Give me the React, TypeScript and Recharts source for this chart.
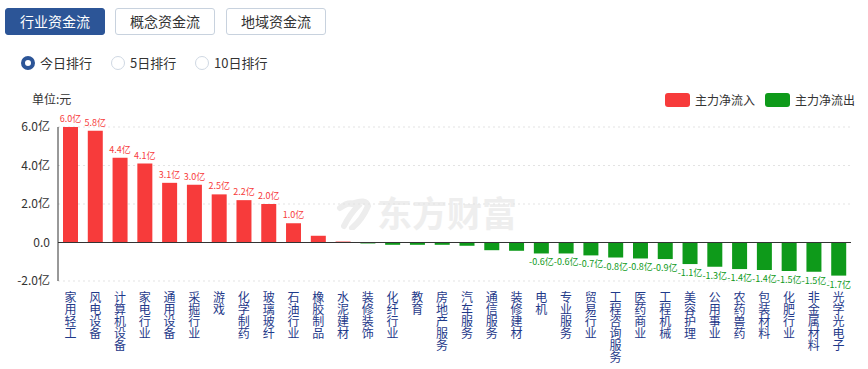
import { BarChart, Bar, XAxis, YAxis, CartesianGrid, ReferenceLine, LabelList } from 'recharts';

const industries = [
  '家用轻工', '风电设备', '计算机设备', '家电行业', '通用设备', '采掘行业', '游戏', '化学制药',
  '玻璃玻纤', '石油行业', '橡胶制品', '水泥建材', '装修装饰', '化纤行业', '教育', '房地产服务',
  '汽车服务', '通信服务', '装修建材', '电机', '专业服务', '贸易行业', '工程咨询服务', '医药商业',
  '工程机械', '美容护理', '公用事业', '农药兽药', '包装材料', '化肥行业', '非金属材料', '光学光电子',
];

// 主力净流入(亿元)
const netFlows = [
  6.0, 5.8, 4.4, 4.1, 3.1, 3.0, 2.5, 2.2,
  2.0, 1.0, 0.35, 0.05, -0.05, -0.12, -0.12, -0.12,
  -0.17, -0.4, -0.43, -0.57, -0.57, -0.67, -0.78, -0.83,
  -0.86, -1.12, -1.26, -1.38, -1.43, -1.48, -1.52, -1.72,
];

const yTicks = [-2, 0, 2, 4, 6];

const RED = '#f73b3b';
const GREEN = '#0e9a1a';
const FONT = '"Noto Sans CJK SC", "Noto Sans", sans-serif';

const chartData = industries.map((name, i) => ({
  name,
  inflow: netFlows[i] > 0 ? netFlows[i] : null,
  outflow: netFlows[i] < 0 ? netFlows[i] : null,
}));

const VerticalTick = (props: any) => {
  const { x, y, payload } = props;
  const chars = String(payload.value).split('');
  return (
    <text x={x} y={y} textAnchor="middle" fill="#1f3a8a" fontSize={12} fontFamily={FONT}>
      {chars.map((ch, i) => (
        <tspan key={i} x={x} dy={i === 0 ? 19 : 12}>{ch}</tspan>
      ))}
    </text>
  );
};

const makeLabel = (color: string) => (props: any) => {
  const { x, y, width, height, value } = props;
  if (value == null || Math.abs(value) < 0.5) return null;
  const cx = x + width / 2;
  const top = Math.min(y, y + height);
  const bottom = Math.max(y, y + height);
  const ly = value > 0 ? top - 5 : bottom + 12;
  return (
    <text x={cx} y={ly} textAnchor="middle" fill={color} fontSize={9} fontFamily={FONT}>
      {value.toFixed(1)}亿
    </text>
  );
};

const tabStyle = (active: boolean): React.CSSProperties => ({
  position: 'absolute',
  top: 8,
  width: 100,
  height: 27,
  boxSizing: 'border-box',
  borderRadius: 3,
  border: active ? '1px solid #2c5597' : '1px solid #c8d2de',
  background: active ? '#2c5597' : '#fff',
  color: active ? '#fff' : '#333',
  fontSize: 14,
  lineHeight: '25px',
  textAlign: 'center',
});

const Radio = ({ left, active, label }: { left: number; active: boolean; label: string }) => (
  <div style={{ position: 'absolute', top: 53, left, display: 'flex', alignItems: 'center', fontSize: 13, color: '#333' }}>
    <span
      style={{
        width: 14,
        height: 14,
        boxSizing: 'border-box',
        borderRadius: '50%',
        border: active ? '4px solid #2c5597' : '1px solid #cfd8e3',
        background: '#fff',
        display: 'inline-block',
      }}
    />
    <span style={{ marginLeft: 5 }}>{label}</span>
  </div>
);

export default function App() {
  return (
    <div style={{ position: 'absolute', left: 0, top: 0, width: 868, height: 369, background: '#fff', fontFamily: FONT, overflow: 'hidden' }}>
      <div style={{ ...tabStyle(true), left: 5 }}>行业资金流</div>
      <div style={{ ...tabStyle(false), left: 115 }}>概念资金流</div>
      <div style={{ ...tabStyle(false), left: 226 }}>地域资金流</div>

      <Radio left={21} active label="今日排行" />
      <Radio left={111} active={false} label="5日排行" />
      <Radio left={195} active={false} label="10日排行" />

      <div style={{ position: 'absolute', left: 32, top: 90, fontSize: 12, color: '#333' }}>单位:元</div>

      {/* legend */}
      <div style={{ position: 'absolute', top: 91, left: 665, display: 'flex', alignItems: 'center', fontSize: 12, color: '#333' }}>
        <span style={{ width: 25, height: 14, borderRadius: 3, background: RED, display: 'inline-block' }} />
        <span style={{ marginLeft: 5, marginRight: 10 }}>主力净流入</span>
        <span style={{ width: 25, height: 14, borderRadius: 3, background: GREEN, display: 'inline-block' }} />
        <span style={{ marginLeft: 5 }}>主力净流出</span>
      </div>

      {/* watermark */}
      <svg style={{ position: 'absolute', left: 336, top: 196 }} width={36} height={34}>
        <path d="M4 12 Q14 4 22 10 Q14 18 8 30 M16 8 Q30 2 32 10 Q26 24 16 32" stroke="#ededed" strokeWidth={6} fill="none" strokeLinecap="round" />
      </svg>
      <div style={{ position: 'absolute', left: 377, top: 194, fontSize: 35, lineHeight: '35px', fontWeight: 700, color: '#eeeeee', whiteSpace: 'nowrap' }}>
        东方财富
      </div>

      <div style={{ position: 'absolute', left: 0, top: 0 }}>
        <BarChart
          width={868}
          height={369}
          data={chartData}
          stackOffset="sign"
          barSize={15}
          margin={{ top: 127, right: 17, left: 0, bottom: 8 }}
        >
          <CartesianGrid vertical={false} stroke="#e3e3e3" strokeDasharray="2 3" />
          <XAxis
            dataKey="name"
            interval={0}
            axisLine={false}
            tickLine={false}
            tickSize={0}
            height={80}
            tick={<VerticalTick />}
          />
          <YAxis
            width={58}
            domain={[-2, 6]}
            ticks={yTicks}
            interval={0}
            tickLine={false}
            tickSize={0}
            tickMargin={8}
            axisLine={{ stroke: '#333' }}
            tick={{ fill: '#333', fontSize: 12, fontFamily: FONT }}
            tickFormatter={(v: number) => (v === 0 ? '0.0' : `${v.toFixed(1)}亿`)}
          />
          <ReferenceLine y={0} stroke="#333" />
          <Bar dataKey="inflow" name="主力净流入" stackId="flow" fill={RED} isAnimationActive={false}>
            <LabelList dataKey="inflow" content={makeLabel(RED)} />
          </Bar>
          <Bar dataKey="outflow" name="主力净流出" stackId="flow" fill={GREEN} isAnimationActive={false}>
            <LabelList dataKey="outflow" content={makeLabel(GREEN)} />
          </Bar>
        </BarChart>
      </div>
    </div>
  );
}
